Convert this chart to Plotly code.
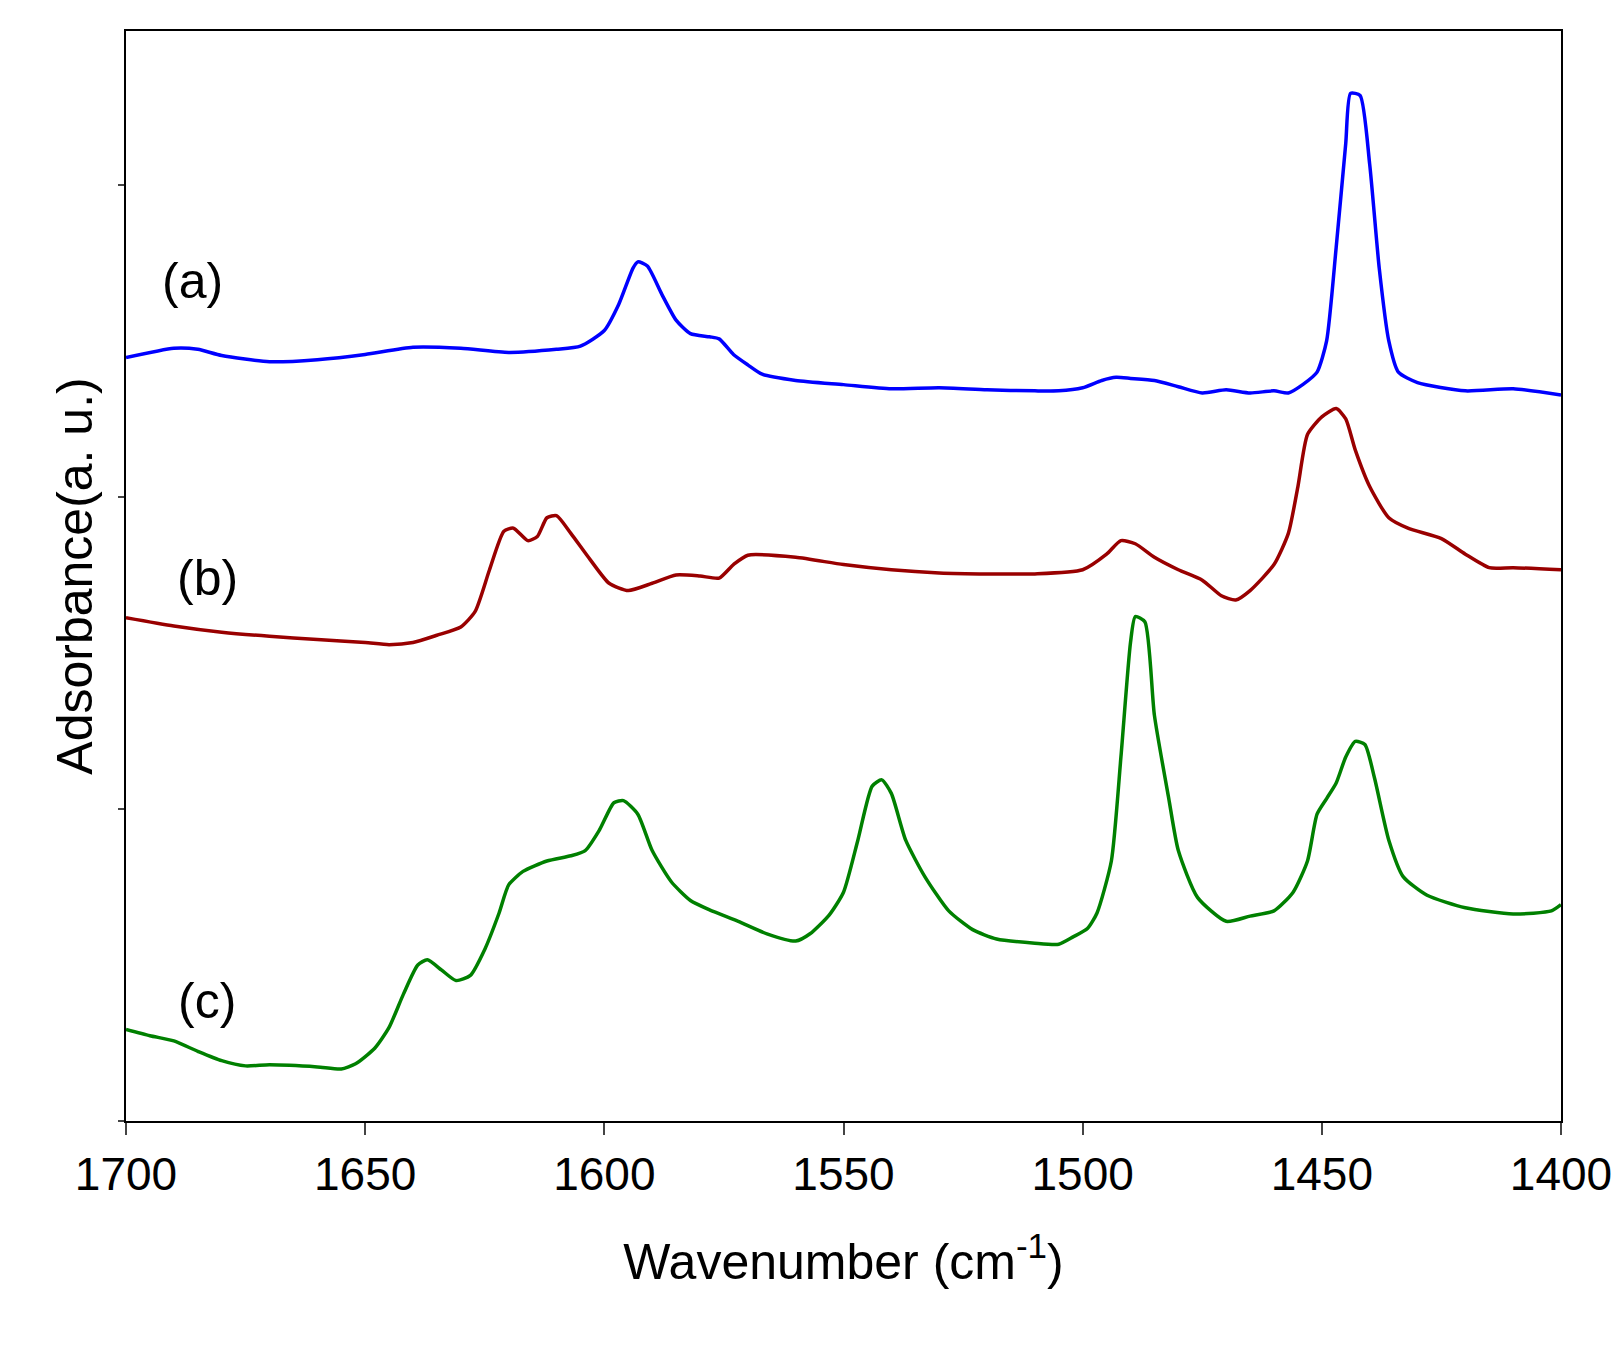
import plotly.graph_objects as go

# pixel-read values converted to a.u. as (1070 - py)/300
a_x = [1700,1690,1685,1680,1670,1660,1650,1640,1630,1620,1610,1605,1600,1597,1594,1593,1591,1588,1585,1582,1578,1576,1573,1570,1567,1560,1550,1540,1530,1520,1510,1505,1500,1496,1493,1490,1485,1480,1475,1470,1465,1460,1457,1454,1451,1449,1447,1445,1444,1442,1440,1438,1436,1434,1430,1420,1410,1400]
a_py = [336,327,328,334,340,338,333,326,327,331,328,325,310,285,250,244,248,275,300,313,316,318,333,343,352,358,362,366,365,367,368,368,365,358,355,356,358,364,370,367,370,368,370,362,350,320,230,130,82,84,150,250,320,350,360,368,366,372]
b_x = [1700,1690,1680,1670,1660,1650,1645,1640,1635,1630,1627,1624,1621,1619,1616,1614,1612,1610,1607,1603,1599,1595,1590,1585,1580,1576,1573,1570,1560,1550,1540,1530,1520,1510,1500,1495,1492,1489,1485,1480,1475,1471,1468,1465,1460,1457,1455,1453,1450,1447,1445,1443,1440,1436,1432,1425,1420,1415,1410,1400]
b_py = [586,594,600,604,607,610,612,610,603,595,580,540,503,500,512,508,490,488,505,530,553,560,553,545,546,548,535,526,528,535,540,543,544,544,540,525,512,515,528,540,550,565,569,560,535,505,460,410,393,385,395,425,460,490,500,510,525,538,538,540]
c_x = [1700,1695,1690,1685,1680,1675,1670,1660,1655,1652,1648,1645,1642,1639,1637,1634,1631,1628,1625,1622,1620,1617,1612,1607,1604,1601,1598,1596,1593,1590,1586,1582,1578,1572,1566,1560,1557,1553,1550,1547,1544,1542,1540,1537,1533,1528,1523,1518,1510,1505,1502,1499,1497,1494,1492,1490,1489,1487,1485,1482,1480,1476,1470,1465,1460,1456,1453,1451,1449,1447,1445,1443,1441,1439,1436,1433,1428,1420,1410,1402,1400]
c_py = [982,988,993,1003,1012,1017,1016,1018,1020,1015,1000,980,948,920,915,925,935,930,905,870,843,830,820,815,810,790,764,762,775,810,840,858,867,878,890,897,890,872,850,800,748,742,755,800,835,868,886,895,899,900,893,885,870,820,720,610,585,590,680,760,810,855,878,873,868,850,820,775,760,745,720,705,708,740,800,835,853,865,871,868,862]

conv = lambda arr: [(1070 - p) / 300 for p in arr]
series = [("(a)", a_x, conv(a_py), "#0000ff"), ("(b)", b_x, conv(b_py), "#990000"), ("(c)", c_x, conv(c_py), "#008000")]
labels = [("(a)", 1686, (1070-262)/300), ("(b)", 1683, (1070-548)/300), ("(c)", 1683, (1070-955)/300)]

fig = go.Figure()
for name, x, y, col in series:
    fig.add_trace(go.Scatter(x=x, y=y, mode="lines", line=dict(color=col, width=3.5, shape="spline", smoothing=0.6), name=name))
for t, x, y in labels:
    fig.add_annotation(x=x, y=y, text=t, showarrow=False, font=dict(size=50, color="black"))

fig.update_layout(
    width=1623, height=1350, showlegend=False, plot_bgcolor="white", paper_bgcolor="white",
    margin=dict(l=118, r=70, t=23, b=237),
    font=dict(family="Liberation Sans, Arial", color="black"),
    xaxis=dict(range=[1700, 1400], tickvals=[1700,1650,1600,1550,1500,1450,1400], ticks="outside",
               ticklen=12, tickwidth=2, linecolor="black", linewidth=2, mirror=True, showgrid=False,
               zeroline=False, tickfont=dict(size=46),
               title=dict(text="Wavenumber (cm<sup>-1</sup>)", font=dict(size=50), standoff=45)),
    yaxis=dict(range=[0, 1048/300], tickvals=[0,1,2,3], showticklabels=False, ticks="outside",
               ticklen=6, tickwidth=2, linecolor="black", linewidth=2, mirror=True, showgrid=False,
               zeroline=False, title=dict(text="Adsorbance(a. u.)", font=dict(size=50), standoff=10)),
)
fig.write_html("out.html")
